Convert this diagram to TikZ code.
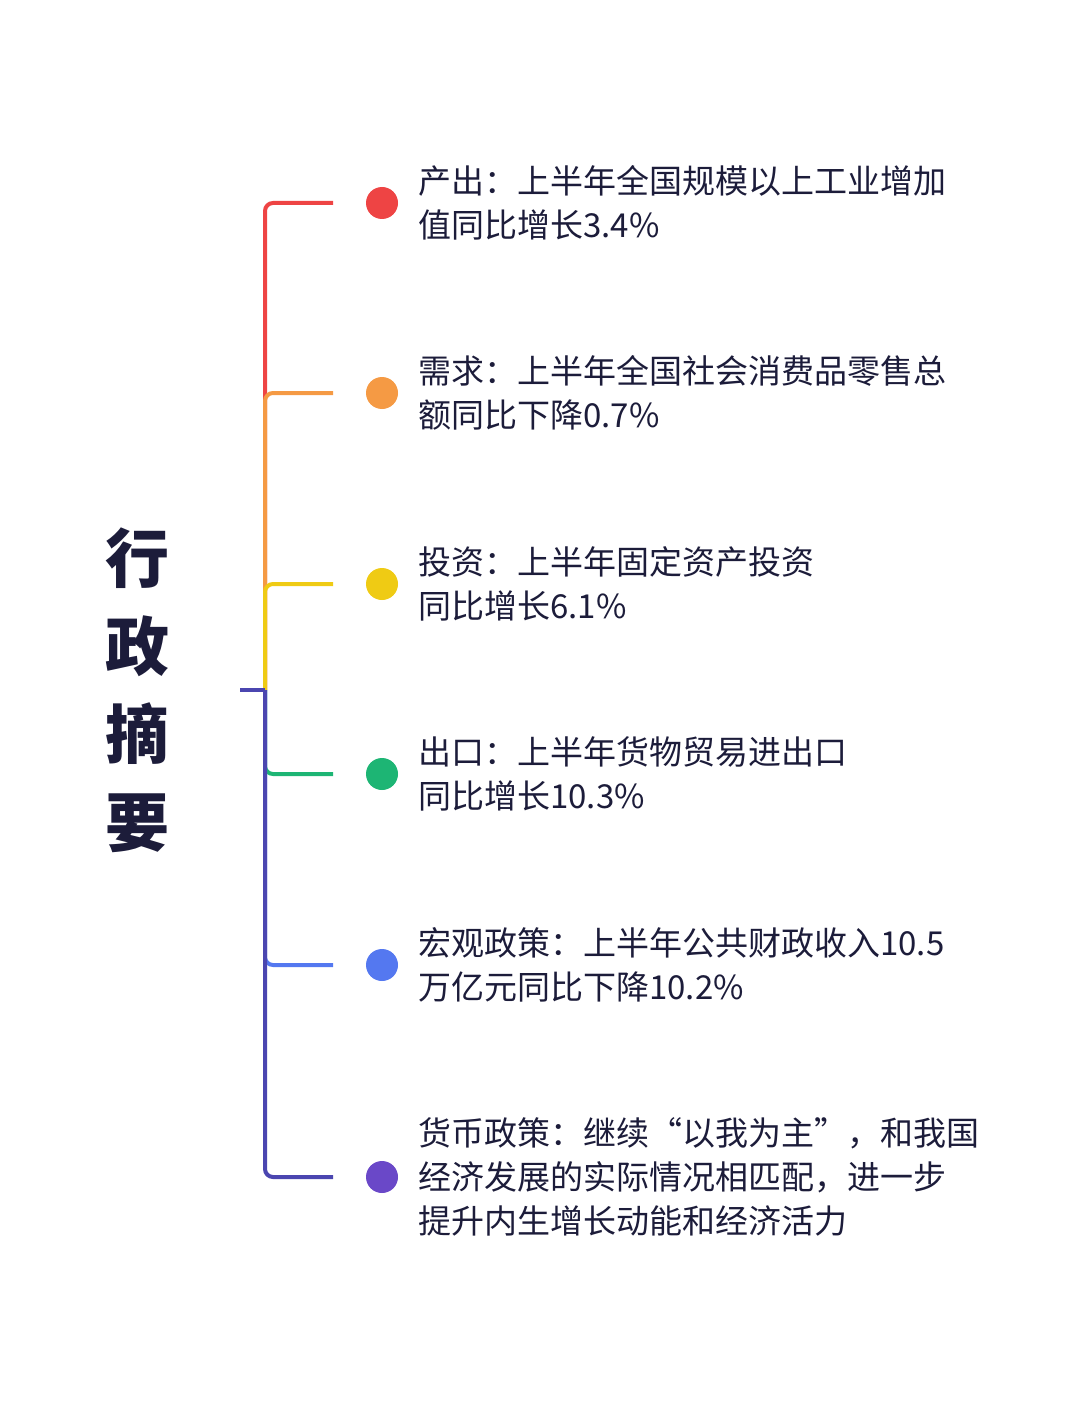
\documentclass[tikz,border=0pt]{standalone}
\usepackage{fontspec}
\newfontfamily\cjk{Noto Sans CJK SC}
\newfontfamily\cjkb{Noto Sans CJK SC Black}
\definecolor{cR}{HTML}{EE4444}
\definecolor{cO}{HTML}{F59A44}
\definecolor{cY}{HTML}{EFCB14}
\definecolor{cG}{HTML}{1DB574}
\definecolor{cB}{HTML}{5478F0}
\definecolor{cP}{HTML}{4B46B0}
\definecolor{dotP}{HTML}{6A48C8}
\definecolor{txt}{HTML}{1C1C3A}
\tikzset{
 br/.style={line width=4pt, rounded corners=8pt},
 dotn/.style={circle, minimum size=32pt, inner sep=0pt},
 lab/.style={anchor=west, align=left, text=txt, inner sep=0pt, font=\cjk\fontsize{33}{44}\selectfont},
}
\begin{document}
\begin{tikzpicture}[x=1pt,y=-1pt]
\useasboundingbox (0,0) rectangle (1080,1412);
\node[text=txt, font=\cjkb\fontsize{64}{88}\selectfont, align=center, inner sep=0pt] (title) at (137,690) {行\\政\\摘\\要};
\coordinate (root) at (265,690);
\coordinate (tick) at (240,690);
\foreach \n/\y in {a/203,b/393,c/584,d/774,e/965,f/1177}{
  \coordinate (e\n) at (333,\y);
}
\draw[br, cR] (root) |- (ea);
\draw[br, cO] (root) |- (eb);
\draw[br, cY] (root) |- (ec);
\draw[br, cG] (root) |- (ed);
\draw[br, cB] (root) |- (ee);
\draw[br, cP] (root) |- (ef);
\draw[line width=4pt, cP] (tick) -- (root);
\node[dotn, fill=cR] (da) at (382,203) {};
\node[dotn, fill=cO] (db) at (382,393) {};
\node[dotn, fill=cY] (dc) at (382,584) {};
\node[dotn, fill=cG] (dd) at (382,774) {};
\node[dotn, fill=cB] (de) at (382,965) {};
\node[dotn, fill=dotP] (df) at (382,1177) {};
\node[lab] (ta) at (418,203) {产出：上半年全国规模以上工业增加\\值同比增长3.4\%};
\node[lab] (tb) at (418,393) {需求：上半年全国社会消费品零售总\\额同比下降0.7\%};
\node[lab] (tc) at (418,584) {投资：上半年固定资产投资\\同比增长6.1\%};
\node[lab] (td) at (418,774) {出口：上半年货物贸易进出口\\同比增长10.3\%};
\node[lab] (te) at (418,965) {宏观政策：上半年公共财政收入10.5\\万亿元同比下降10.2\%};
\node[lab] (tf) at (418,1177) {货币政策：继续“以我为主”，和我国\\经济发展的实际情况相匹配，进一步\\提升内生增长动能和经济活力};
\end{tikzpicture}
\end{document}
